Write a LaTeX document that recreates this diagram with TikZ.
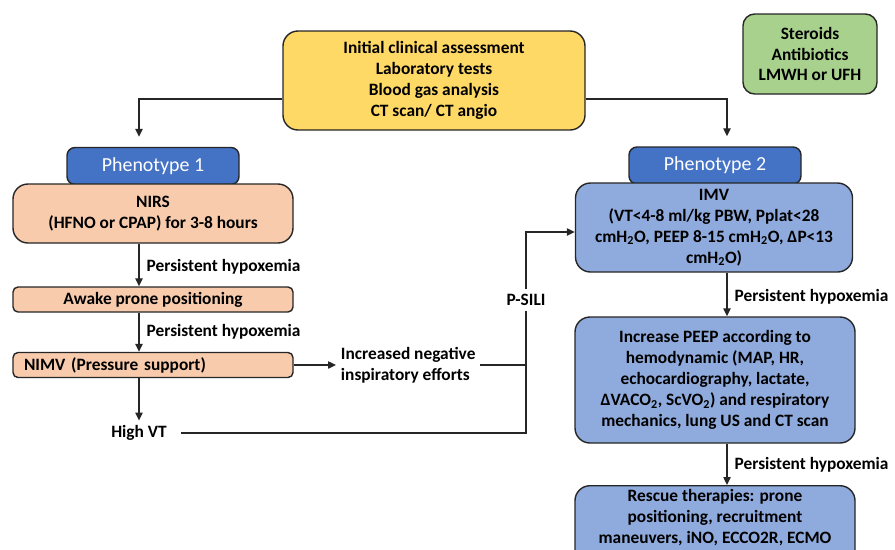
\documentclass[tikz,border=0pt]{standalone}
\usepackage{fontspec}
\setmainfont{Carlito}
\usepackage{xcolor}
\usepackage{tikz}
\usetikzlibrary{arrows.meta,positioning,calc}
\definecolor{boxline}{HTML}{262626}
\definecolor{initfill}{HTML}{FFD966}
\definecolor{medsfill}{HTML}{A9D18E}
\definecolor{phenofill}{HTML}{4472C4}
\definecolor{nirsfill}{HTML}{F8CBAD}
\definecolor{imvfill}{HTML}{8FAADC}
\def\px{0.03cm}
\def\BoxWidth{280}
\def\txt{\fontsize{14.8}{17.9}\selectfont\bfseries}
\tikzset{
	box/.style={draw=boxline,line width=1.2pt,rounded corners=0.45cm,align=center,inner sep=0pt,font=\txt},
	slim/.style={box,rounded corners=0.15cm,minimum width=\BoxWidth*\px,minimum height=25*\px},
	header/.style={draw=boxline,line width=1.2pt,rounded corners=0.24cm,fill=phenofill,text=white,
		minimum width=172*\px,minimum height=37*\px,font=\fontsize{17}{20}\selectfont},
	lbl/.style={font=\txt,inner sep=4pt},
	arr/.style={draw=boxline,line width=1.1pt,-{Triangle[length=2.4mm,width=2.2mm]}},
	link/.style={draw=boxline,line width=1.1pt}
}
\begin{document}
\begin{tikzpicture}[x=\px,y=-\px]
	\useasboundingbox (0,0) rectangle (895,549);
	% top
	\node[box,fill=initfill,minimum width=302*\px,minimum height=99*\px] (init) at (434,80.5)
		{Initial clinical assessment\\Laboratory tests\\Blood gas analysis\\CT scan/ CT angio};
	\node[box,rounded corners=0.35cm,fill=medsfill,minimum width=134*\px,minimum height=80*\px] (meds) at (810,54)
		{Steroids\\Antibiotics\\LMWH or UFH};
	\coordinate (lcol) at (139,99);
	\coordinate (rcol) at (727,99);
	% phenotype 1
	\node[header] (pheno1) at (153,166) {Phenotype 1};
	\node[box,fill=nirsfill,minimum width=\BoxWidth*\px,minimum height=59*\px] (nirs) at (153,213.5)
		{NIRS\\(HFNO or CPAP) for 3-8 hours};
	\node[slim,fill=nirsfill] (prone) at (153,299.5) {Awake prone positioning};
	\node[slim,fill=nirsfill,text width=258*\px,align=left] (nimv) at (153,365) {NIMV (Pressure support)};
	\node[lbl,anchor=west,align=left] (effort) at (336,365) {Increased negative\\inspiratory efforts};
	\node[lbl] (highvt) at (139,433) {High VT};
	\node[lbl] (psili) at (526,300) {P-SILI};
	% phenotype 2
	\node[header] (pheno2) at (715,165.5) {Phenotype 2};
	\node[box,fill=imvfill,minimum width=277*\px,minimum height=89*\px] (imv) at (714,227.5)
		{IMV\\(VT<4-8 ml/kg PBW, Pplat<28\\cmH\textsubscript{2}O, PEEP 8-15 cmH\textsubscript{2}O, ΔP<13\\cmH\textsubscript{2}O)};
	\node[box,fill=imvfill,minimum width=\BoxWidth*\px,minimum height=126*\px] (peep) at (715,380)
		{Increase PEEP according to\\hemodynamic (MAP, HR,\\echocardiography, lactate,\\ΔVACO\textsubscript{2}, ScVO\textsubscript{2}) and respiratory\\mechanics, lung US and CT scan};
	% box runs on past the lower edge
	\node[box,fill=imvfill,minimum width=\BoxWidth*\px,inner ysep=3pt,text depth=1.5cm,anchor=north] (rescue) at (715,485)
		{Rescue therapies: prone\\positioning, recruitment\\maneuvers, iNO, ECCO2R, ECMO};
	% connectors
	\draw[arr,shorten >=0.3cm] (init.west |- lcol) -- (lcol) -- (lcol |- pheno1.north);
	\draw[arr,shorten >=0.3cm] (init.east |- rcol) -- (rcol) -- (rcol |- pheno2.north);
	\draw[arr] (nirs.south -| highvt) -- node[lbl,anchor=west,pos=0.55,xshift=2pt] {Persistent hypoxemia} (prone.north -| highvt);
	\draw[arr] (prone.south -| highvt) -- node[lbl,anchor=west,pos=0.5,xshift=2pt] {Persistent hypoxemia} (nimv.north -| highvt);
	\draw[arr] (nimv.south -| highvt) -- (highvt.north);
	\draw[arr] (nimv.east) -- (effort.west);
	\draw[link] (effort.east) -- (effort.east -| psili);
	\draw[link,shorten <=8pt] (highvt.east) -- (highvt.east -| psili) -- (psili.south);
	\draw[arr] (psili.north) |- ($(imv.west)+(0,4.5)$);
	\draw[arr] (imv.south -| rcol) -- node[lbl,anchor=west,pos=0.55,xshift=2pt] {Persistent hypoxemia} (peep.north -| rcol);
	\draw[arr] (peep.south -| rcol) -- node[lbl,anchor=west,pos=0.5,xshift=2pt] {Persistent hypoxemia} (rescue.north -| rcol);
\end{tikzpicture}
\end{document}
